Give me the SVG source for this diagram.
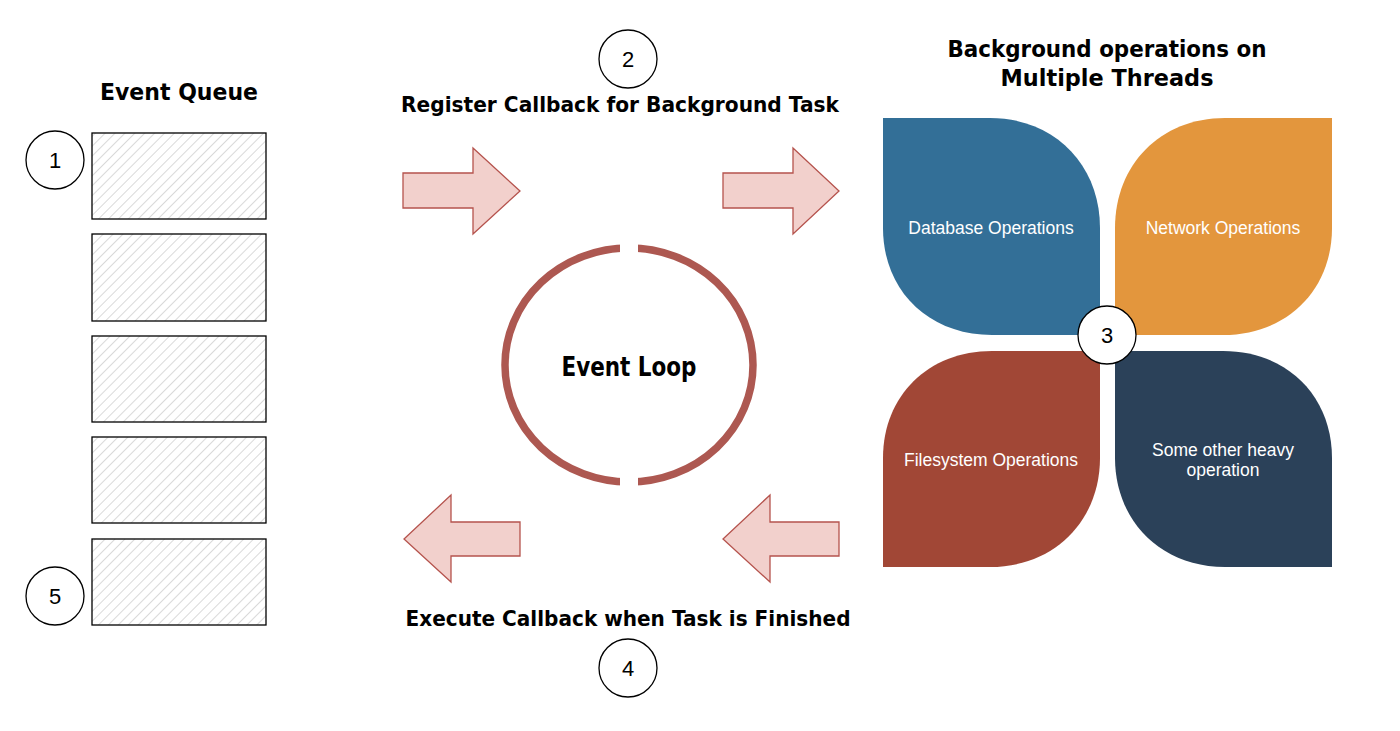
<svg xmlns="http://www.w3.org/2000/svg" width="1400" height="731" viewBox="0 0 1400 731">
<style>
.comic{font-family:"Comic Sans MS","DejaVu Sans","Liberation Sans",sans-serif;font-weight:bold;fill:#000;text-anchor:middle}
.num{font-family:"Liberation Sans",Arial,sans-serif;font-size:22px;fill:#000;text-anchor:middle}
.lbl{font-family:"Liberation Sans",Arial,sans-serif;font-size:17.5px;fill:#fff;text-anchor:middle}
.badge{fill:#fff;stroke:#000;stroke-width:1.3}
.qbox{fill:url(#hatch);stroke:#000;stroke-width:1.3}
.arrow{fill:#f2d0cc;stroke:#b5534d;stroke-width:1.3}
</style>
<defs>
<pattern id="hatch" width="7" height="7" patternUnits="userSpaceOnUse" patternTransform="rotate(45)">
<rect width="7" height="7" fill="#fff"/>
<line x1="0" y1="0" x2="0" y2="7" stroke="#c9c9c9" stroke-width="1.4"/>
</pattern>
</defs>
<rect width="1400" height="731" fill="#fff"/>

<g id="event-queue">
<text class="comic" x="179" y="100" font-size="23" textLength="158" lengthAdjust="spacingAndGlyphs">Event Queue</text>
<rect class="qbox" x="92" y="133" width="174" height="86"/>
<rect class="qbox" x="92" y="234" width="174" height="87"/>
<rect class="qbox" x="92" y="336" width="174" height="86"/>
<rect class="qbox" x="92" y="437" width="174" height="86"/>
<rect class="qbox" x="92" y="539" width="174" height="86"/>
</g>

<g id="badge-1"><circle class="badge" cx="55" cy="160" r="29"/><text class="num" x="55" y="168">1</text></g>
<g id="badge-5"><circle class="badge" cx="55" cy="596" r="29"/><text class="num" x="55" y="604">5</text></g>
<g id="badge-2"><circle class="badge" cx="628" cy="59" r="29"/><text class="num" x="628" y="67">2</text></g>
<g id="badge-4"><circle class="badge" cx="628" cy="668" r="29"/><text class="num" x="628" y="676">4</text></g>

<g id="label-register"><text class="comic" x="620" y="112" font-size="22" textLength="438" lengthAdjust="spacingAndGlyphs">Register Callback for Background Task</text></g>
<g id="label-execute"><text class="comic" x="628" y="626" font-size="22" textLength="445" lengthAdjust="spacingAndGlyphs">Execute Callback when Task is Finished</text></g>

<g id="connectors">
<path class="arrow" d="M403,173 H473 V148 L520,191 L473,234 V208 H403 Z"/>
<path class="arrow" d="M723,173 H793 V148 L839,191 L793,234 V208 H723 Z"/>
<path class="arrow" d="M520,522 H451 V495 L404,539 L451,582 V556 H520 Z"/>
<path class="arrow" d="M839,522 H770 V495 L723,539 L770,582 V556 H839 Z"/>
</g>

<g id="event-loop">
<ellipse cx="629" cy="365" rx="124" ry="117" fill="none" stroke="#ad5851" stroke-width="7.5"/>
<rect x="620" y="240" width="18" height="14" fill="#fff"/>
<rect x="620" y="476" width="18" height="14" fill="#fff"/>
<text class="comic" x="629" y="376" font-size="26" textLength="135" lengthAdjust="spacingAndGlyphs">Event Loop</text>
</g>

<g id="bg-title">
<text class="comic" x="1107" y="57" font-size="23" textLength="319" lengthAdjust="spacingAndGlyphs">Background operations on</text>
<text class="comic" x="1107" y="86" font-size="23" textLength="213" lengthAdjust="spacingAndGlyphs">Multiple Threads</text>
</g>

<g id="database-ops">
<path d="M883,118 H990 C1055,118 1100,165 1100,228 V335 H992 C928,335 883,290 883,228 Z" fill="#336f97"/>
<text class="lbl" x="991" y="234">Database Operations</text>
</g>
<g id="network-ops">
<path d="M1332,118 H1225 C1160,118 1115,165 1115,228 V335 H1223 C1287,335 1332,290 1332,228 Z" fill="#e3963d"/>
<text class="lbl" x="1223" y="234">Network Operations</text>
</g>
<g id="filesystem-ops">
<path d="M883,567 H990 C1055,567 1100,520 1100,458 V351 H992 C928,351 883,396 883,458 Z" fill="#a14736"/>
<text class="lbl" x="991" y="466">Filesystem Operations</text>
</g>
<g id="other-ops">
<path d="M1332,567 H1225 C1160,567 1115,520 1115,458 V351 H1223 C1287,351 1332,396 1332,458 Z" fill="#2b4159"/>
<text class="lbl" x="1223" y="456">Some other heavy</text>
<text class="lbl" x="1223" y="476">operation</text>
</g>
<g id="badge-3"><circle class="badge" cx="1107" cy="335" r="29"/><text class="num" x="1107" y="343">3</text></g>
</svg>
